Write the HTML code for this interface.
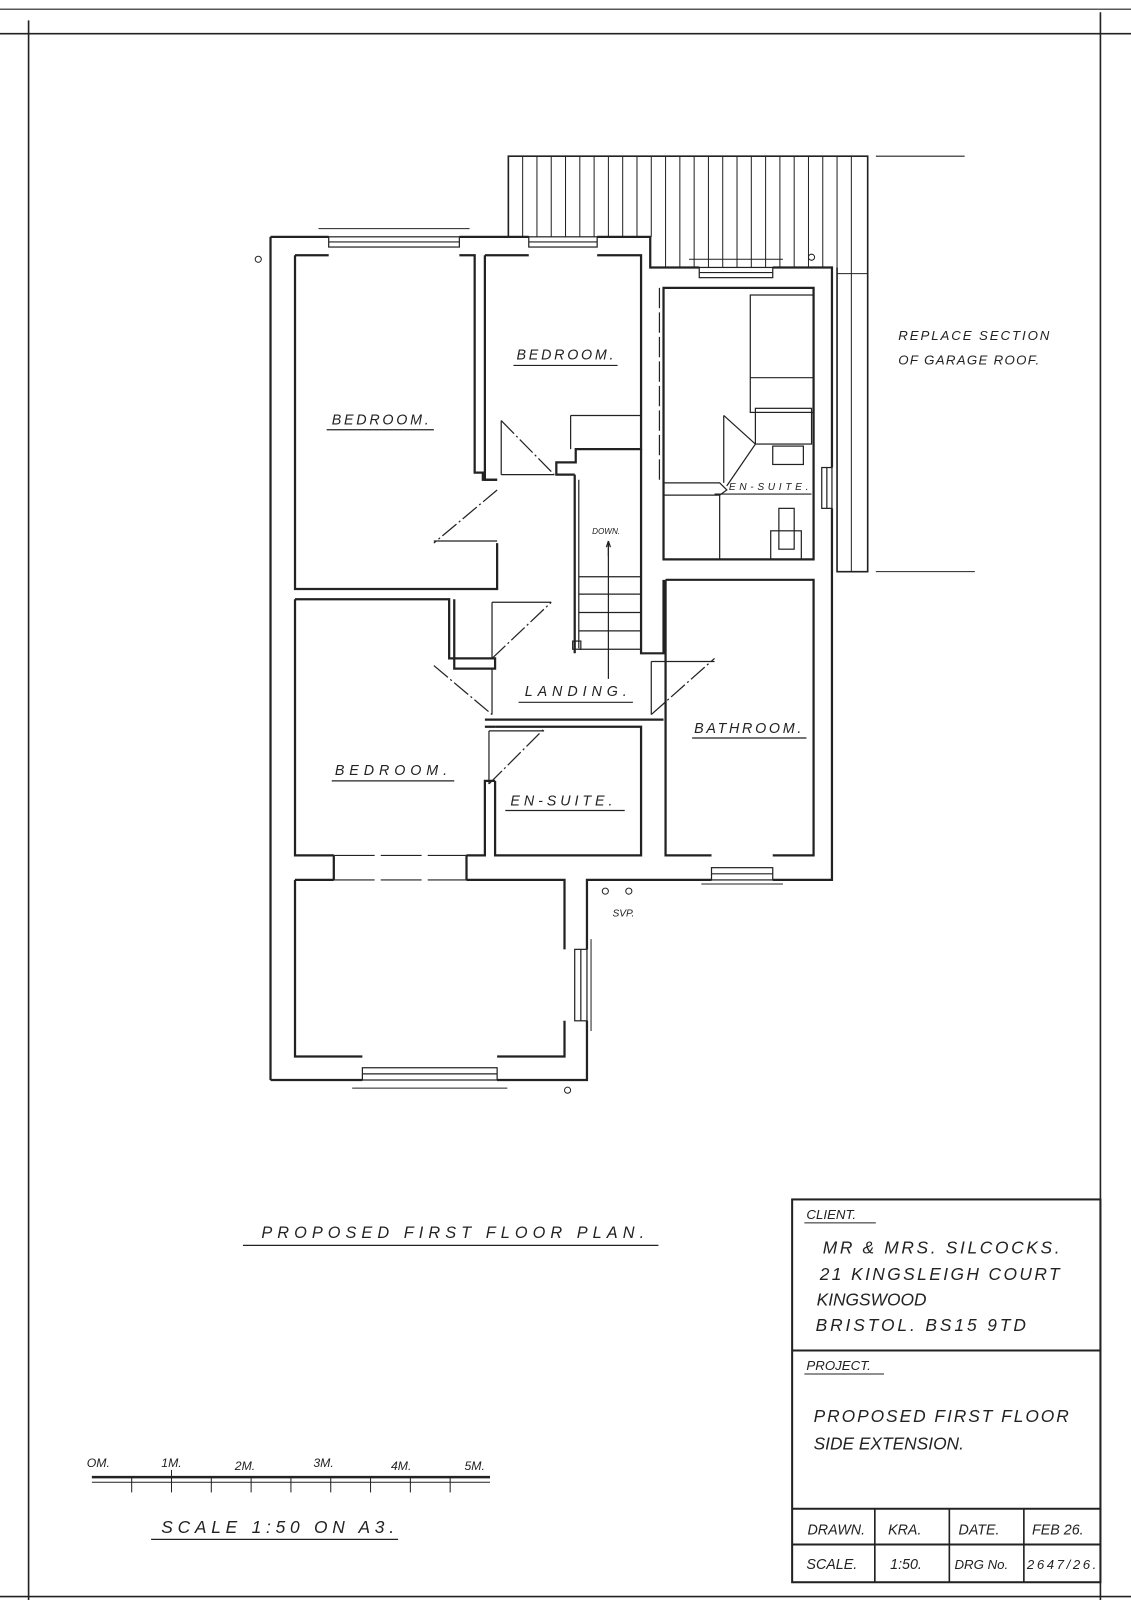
<!DOCTYPE html>
<html><head><meta charset="utf-8"><style>
html,body{margin:0;padding:0;background:#fff}
svg{display:block}
text{font-family:"Liberation Sans",sans-serif;font-style:italic;fill:#222}
</style></head><body>
<svg width="1131" height="1600" viewBox="0 0 1131 1600" xmlns="http://www.w3.org/2000/svg">
<g transform="scale(1.0208)">
<g stroke="#222" fill="none" stroke-width="1.6">
<line x1="0" y1="9" x2="1131" y2="9" stroke-width="1"/>
<line x1="0" y1="33" x2="1131" y2="33"/>
<line x1="28" y1="20" x2="28" y2="1600"/>
<line x1="1078" y1="12" x2="1078" y2="1592"/>
<line x1="0" y1="1564" x2="1131" y2="1564"/>

<path d="M498 232 V153 H850 V560 H820 V262" />
<g stroke-width="1">
<line x1="512" y1="153" x2="512" y2="232"/><line x1="526" y1="153" x2="526" y2="232"/>
<line x1="540" y1="153" x2="540" y2="232"/><line x1="554" y1="153" x2="554" y2="232"/>
<line x1="568" y1="153" x2="568" y2="232"/><line x1="582" y1="153" x2="582" y2="232"/>
<line x1="596" y1="153" x2="596" y2="232"/><line x1="610" y1="153" x2="610" y2="232"/>
<line x1="624" y1="153" x2="624" y2="232"/><line x1="638" y1="153" x2="638" y2="232"/>
<line x1="652" y1="153" x2="652" y2="262"/><line x1="666" y1="153" x2="666" y2="262"/>
<line x1="680" y1="153" x2="680" y2="262"/><line x1="694" y1="153" x2="694" y2="262"/>
<line x1="708" y1="153" x2="708" y2="262"/><line x1="722" y1="153" x2="722" y2="262"/>
<line x1="736" y1="153" x2="736" y2="262"/><line x1="750" y1="153" x2="750" y2="262"/>
<line x1="764" y1="153" x2="764" y2="262"/><line x1="778" y1="153" x2="778" y2="262"/>
<line x1="792" y1="153" x2="792" y2="262"/><line x1="806" y1="153" x2="806" y2="262"/>
<line x1="820" y1="153" x2="820" y2="262"/><line x1="834" y1="153" x2="834" y2="560"/>
<line x1="820" y1="268" x2="850" y2="268"/>
</g>
<line x1="858" y1="153" x2="945" y2="153" stroke-width="1"/>
<line x1="858" y1="560" x2="955" y2="560" stroke-width="1"/>

<path d="M265 232 H322 M450 232 H518 M585 232 H637 V262 H685 M757 262 H815 V458 M815 498 V560 V862 H757 M697 862 H575 V930 M575 1000 V1058 H487 M355 1058 H265" stroke-width="2.2"/>
<line x1="265" y1="232" x2="265" y2="1058" stroke-width="2.2"/>

<g stroke-width="1.2">
<rect x="322" y="232" width="128" height="10"/><line x1="322" y1="237" x2="450" y2="237"/><line x1="312" y1="224" x2="460" y2="224" stroke-width="1"/>
<rect x="518" y="232" width="67" height="10"/><line x1="518" y1="237" x2="585" y2="237"/>
<rect x="685" y="262" width="72" height="10"/><line x1="685" y1="267" x2="757" y2="267"/><line x1="675" y1="254" x2="767" y2="254" stroke-width="1"/>
<rect x="805" y="458" width="10" height="40"/><line x1="810" y1="458" x2="810" y2="498"/>
<rect x="697" y="850" width="60" height="12"/><line x1="697" y1="856" x2="757" y2="856"/><line x1="687" y1="866" x2="767" y2="866" stroke-width="1"/>
<rect x="563" y="930" width="12" height="70"/><line x1="569" y1="930" x2="569" y2="1000"/><line x1="579" y1="920" x2="579" y2="1010" stroke-width="1"/>
<rect x="355" y="1046" width="132" height="12"/><line x1="355" y1="1052" x2="487" y2="1052"/><line x1="345" y1="1066" x2="497" y2="1066" stroke-width="1"/>
</g>

<g stroke-width="2.2">
<path d="M289 250 H322 M450 250 H465 V463 H473 V470 H487 M487 532 V577 H289 V250"/>
<path d="M475 250 V470 H487 M475 250 H518 M585 250 H628 V440 H564 V453 H545 V465 H563"/>
<path d="M650 282 H797 V548 H650 Z"/>
<path d="M563 465 V640 M628 440 V640 H650 V568"/>
<path d="M289 587 H440 V645 H485 V655 H445 V587 M289 587 V838 H327 M457 838 H475 V765 H485 M485 712 H628 V838 H485 V765"/>
<path d="M475 705 H650 M475 712 H485"/>
<path d="M652 568 H797 V838 H757 M697 838 H652 V568"/>
<path d="M289 862 H327 M457 862 H553 V930 M553 1000 V1035 H487 M355 1035 H289 V862"/>
<path d="M327 838 V862 M457 838 V862"/>
</g>
<path d="M327 838 H457 M327 862 H457" stroke-width="1" stroke-dasharray="40 6"/>

<g stroke-width="1.2">
<rect x="735" y="289" width="62" height="115"/><line x1="735" y1="370" x2="797" y2="370"/>
<rect x="740" y="400" width="55" height="35"/>
<rect x="757" y="437" width="30" height="18"/>
<rect x="763" y="498" width="15" height="40"/><rect x="755" y="520" width="30" height="28"/>
<path d="M650 473 H705 L712 480 L705 485 H650 Z"/>
<line x1="705" y1="485" x2="705" y2="548"/>
<line x1="628" y1="282" x2="628" y2="440" stroke-dasharray="20 4"/>
<line x1="646" y1="282" x2="646" y2="473" stroke-dasharray="20 4"/>
<line x1="559" y1="407" x2="628" y2="407"/><line x1="559" y1="407" x2="559" y2="440"/>
<line x1="567" y1="470" x2="567" y2="635"/>
<line x1="596" y1="530" x2="596" y2="665"/>
<line x1="567" y1="565" x2="628" y2="565"/><line x1="567" y1="582" x2="628" y2="582"/>
<line x1="567" y1="600" x2="628" y2="600"/><line x1="567" y1="618" x2="628" y2="618"/>
<line x1="567" y1="636" x2="628" y2="636"/>
<rect x="561" y="628" width="8" height="8"/>
<path d="M596 545 V530 l-2 6 M596 530 l2 6"/>
<line x1="491" y1="412" x2="491" y2="465"/><line x1="491" y1="465" x2="543" y2="465"/><line x1="491" y1="412" x2="543" y2="465" stroke-dasharray="18 3 2 3"/>
<line x1="425" y1="530" x2="487" y2="530"/><line x1="487" y1="480" x2="425" y2="532" stroke-dasharray="18 3 2 3"/>
<line x1="709" y1="407" x2="709" y2="473"/><path d="M709 407 L740 435 L712 476"/>
<line x1="482" y1="590" x2="482" y2="645"/><line x1="482" y1="590" x2="540" y2="590"/><line x1="482" y1="645" x2="540" y2="590" stroke-dasharray="18 3 2 3"/>
<line x1="482" y1="655" x2="482" y2="700"/><line x1="425" y1="652" x2="482" y2="700" stroke-dasharray="18 3 2 3"/>
<line x1="638" y1="648" x2="700" y2="648"/><line x1="638" y1="648" x2="638" y2="700"/><line x1="638" y1="700" x2="700" y2="645" stroke-dasharray="18 3 2 3"/>
<line x1="479" y1="716" x2="479" y2="768"/><line x1="479" y1="716" x2="533" y2="716"/><line x1="479" y1="768" x2="533" y2="714" stroke-dasharray="18 3 2 3"/>
</g>
<g stroke-width="1.2">
<line x1="503" y1="358" x2="605" y2="358"/>
<line x1="320" y1="421" x2="425" y2="421"/>
<line x1="508" y1="688" x2="620" y2="688"/>
<line x1="678" y1="723" x2="790" y2="723"/>
<line x1="325" y1="765" x2="445" y2="765"/>
<line x1="495" y1="794" x2="612" y2="794"/>
<line x1="700" y1="484" x2="795" y2="484"/>
<line x1="238" y1="1220" x2="645" y2="1220"/>
<line x1="148" y1="1508" x2="390" y2="1508"/>
</g>
<circle cx="253" cy="254" r="3" stroke-width="1"/><circle cx="795" cy="252" r="3" stroke-width="1"/>
<circle cx="593" cy="873" r="3" stroke-width="1"/><circle cx="616" cy="873" r="3" stroke-width="1"/>
<circle cx="556" cy="1068" r="3" stroke-width="1"/>

<line x1="90" y1="1447" x2="480" y2="1447" stroke-width="2.5"/>
<line x1="90" y1="1452" x2="480" y2="1452" stroke-width="1"/>
<g stroke-width="1">
<line x1="129" y1="1447" x2="129" y2="1462"/><line x1="168" y1="1440" x2="168" y2="1462"/>
<line x1="207" y1="1447" x2="207" y2="1462"/><line x1="246" y1="1447" x2="246" y2="1462"/>
<line x1="285" y1="1447" x2="285" y2="1462"/><line x1="324" y1="1447" x2="324" y2="1462"/>
<line x1="363" y1="1447" x2="363" y2="1462"/><line x1="402" y1="1447" x2="402" y2="1462"/>
<line x1="441" y1="1447" x2="441" y2="1462"/>
</g>

<rect x="776" y="1175" width="302" height="375" stroke-width="2"/>
<line x1="776" y1="1323" x2="1078" y2="1323" stroke-width="2"/>
<line x1="776" y1="1478" x2="1078" y2="1478" stroke-width="2"/>
<line x1="776" y1="1513" x2="1078" y2="1513" stroke-width="2"/>
<line x1="857" y1="1478" x2="857" y2="1550" stroke-width="1.6"/>
<line x1="930" y1="1478" x2="930" y2="1550" stroke-width="1.6"/>
<line x1="1003" y1="1478" x2="1003" y2="1550" stroke-width="1.6"/>
<line x1="788" y1="1198" x2="858" y2="1198" stroke-width="1"/>
<line x1="788" y1="1346" x2="866" y2="1346" stroke-width="1"/>
</g>

<g font-size="14">
<text x="506" y="352" textLength="95">BEDROOM.</text>
<text x="325" y="416" textLength="95">BEDROOM.</text>
<text x="514" y="682" textLength="100">LANDING.</text>
<text x="680" y="718" textLength="105">BATHROOM.</text>
<text x="328" y="759" textLength="110">BEDROOM.</text>
<text x="500" y="789" textLength="100">EN-SUITE.</text>
<text x="714" y="480" font-size="10" textLength="78">EN-SUITE.</text>
<text x="580" y="523" font-size="8">DOWN.</text>
<text x="600" y="898" font-size="10">SVP.</text>
<text x="880" y="333" font-size="13" textLength="148">REPLACE SECTION</text>
<text x="880" y="357" font-size="13" textLength="138">OF GARAGE ROOF.</text>
<text x="256" y="1213" font-size="16" textLength="375">PROPOSED FIRST FLOOR PLAN.</text>
<text x="85" y="1437" font-size="12">OM.</text>
<text x="158" y="1437" font-size="12">1M.</text>
<text x="230" y="1440" font-size="12">2M.</text>
<text x="307" y="1437" font-size="12">3M.</text>
<text x="383" y="1440" font-size="12">4M.</text>
<text x="455" y="1440" font-size="12">5M.</text>
<text x="158" y="1502" font-size="17" textLength="228">SCALE 1:50 ON A3.</text>
<text x="790" y="1194" font-size="13">CLIENT.</text>
<text x="806" y="1228" font-size="17" textLength="232">MR &amp; MRS. SILCOCKS.</text>
<text x="803" y="1254" font-size="17" textLength="235">21 KINGSLEIGH COURT</text>
<text x="800" y="1279" font-size="17">KINGSWOOD</text>
<text x="799" y="1304" font-size="17" textLength="206">BRISTOL. BS15 9TD</text>
<text x="790" y="1342" font-size="13">PROJECT.</text>
<text x="797" y="1393" font-size="17" textLength="250">PROPOSED FIRST FLOOR</text>
<text x="797" y="1420" font-size="17">SIDE EXTENSION.</text>
<text x="791" y="1503" font-size="14">DRAWN.</text>
<text x="870" y="1503" font-size="14">KRA.</text>
<text x="939" y="1503" font-size="14">DATE.</text>
<text x="1011" y="1503" font-size="14">FEB 26.</text>
<text x="790" y="1537" font-size="14">SCALE.</text>
<text x="872" y="1537" font-size="14">1:50.</text>
<text x="935" y="1537" font-size="13">DRG No.</text>
<text x="1006" y="1537" font-size="13" textLength="68">2647/26.</text>
</g>
</g>
</svg>
</body></html>
